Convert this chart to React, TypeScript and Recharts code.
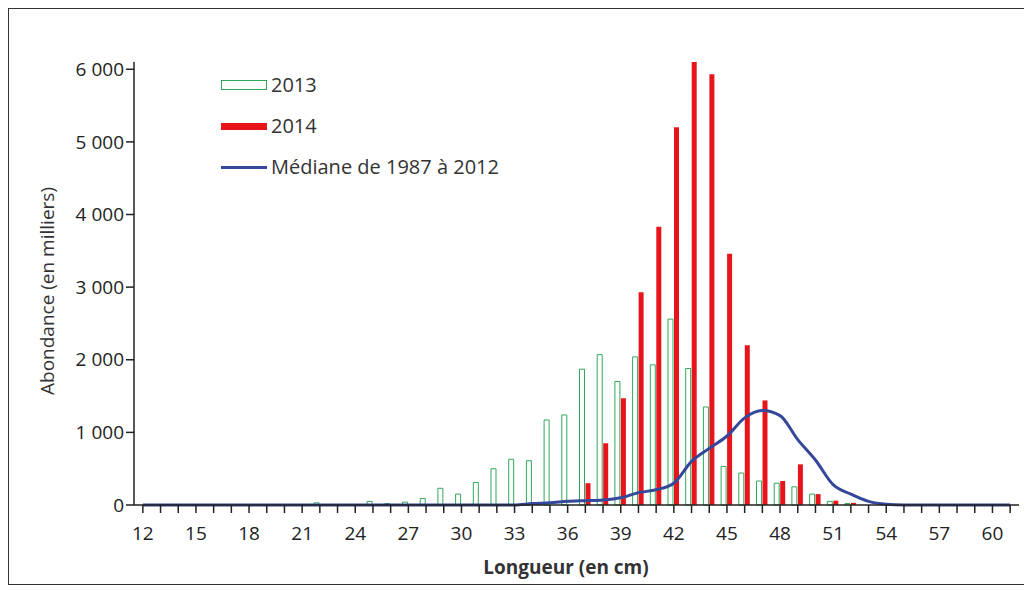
import React from 'react';
import { ComposedChart, Bar, Line, XAxis, YAxis } from 'recharts';

const lengths = Array.from({ length: 50 }, (_, i) => 12 + i);

// values in thousands, indexed by length (cm)
const abundance2013: Record<number, number> = {
  22: 30, 25: 50, 26: 20, 27: 40, 28: 90, 29: 230, 30: 150, 31: 310, 32: 500,
  33: 630, 34: 610, 35: 1170, 36: 1240, 37: 1870, 38: 2070, 39: 1700, 40: 2040,
  41: 1930, 42: 2560, 43: 1880, 44: 1350, 45: 530, 46: 440, 47: 330, 48: 300,
  49: 250, 50: 150, 51: 50, 52: 20,
};
const abundance2014: Record<number, number> = {
  37: 300, 38: 850, 39: 1470, 40: 2930, 41: 3830, 42: 5200, 43: 6100, 44: 5930,
  45: 3460, 46: 2200, 47: 1440, 48: 330, 49: 560, 50: 150, 51: 60, 52: 30,
};
const median8712: Record<number, number> = {
  34: 20, 35: 30, 36: 50, 37: 60, 38: 70, 39: 100, 40: 170, 41: 210, 42: 300,
  43: 600, 44: 780, 45: 950, 46: 1200, 47: 1300, 48: 1230, 49: 900, 50: 620,
  51: 280, 52: 150, 53: 50, 54: 10,
};
const yTicks = [0, 1000, 2000, 3000, 4000, 5000, 6000];

const data = lengths.map((l) => ({
  len: l,
  y2013: abundance2013[l] ?? 0,
  y2014: abundance2014[l] ?? 0,
  median: median8712[l] ?? 0,
}));

const font = '"Open Sans", sans-serif';
const fmt = (v: number) => (v >= 1000 ? `${Math.floor(v / 1000)} ${String(v % 1000).padStart(3, '0')}` : String(v));

export default function App() {
  return (
    <div style={{ position: 'relative', width: 1016, height: 575, border: '1px solid #333', fontFamily: font, background: '#fff' }}>
      <ComposedChart width={1014} height={573} data={data} margin={{ top: 53, right: 4, bottom: 47, left: 55 }} barSize={5} barGap={1}>
        <XAxis
          dataKey="len"
          interval={0}
          height={30}
          tickFormatter={(v: number) => ((v - 12) % 3 === 0 ? String(v) : '')}
          tick={{ fill: '#222', fontSize: 19, fontFamily: font }}
          axisLine={{ stroke: '#222', strokeWidth: 1.5 }}
          tickLine={{ stroke: '#222', strokeWidth: 1.5 }}
          tickSize={8}
          tickMargin={14}
        />
        <YAxis
          domain={[0, 6000]}
          ticks={yTicks}
          width={70}
          tickFormatter={fmt}
          tick={{ fill: '#222', fontSize: 19, fontFamily: font }}
          axisLine={{ stroke: '#222', strokeWidth: 1.5 }}
          tickLine={{ stroke: '#222', strokeWidth: 1.5 }}
          tickSize={8}
        />
        <Bar dataKey="y2013" fill="#fff" stroke="#2fa85a" strokeWidth={1} isAnimationActive={false} />
        <Bar dataKey="y2014" fill="#e8141c" isAnimationActive={false} />
        <Line dataKey="median" type="monotone" stroke="#34479a" strokeWidth={3} dot={false} isAnimationActive={false} />
      </ComposedChart>
      <div style={{ position: 'absolute', left: 14, top: 282, transform: 'translate(-50%, -50%) rotate(-90deg)', transformOrigin: 'center', fontSize: 19, color: '#333', whiteSpace: 'nowrap', marginLeft: 24 }}>
        Abondance (en milliers)
      </div>
      <div style={{ position: 'absolute', left: 557, top: 545, transform: 'translateX(-50%)', fontSize: 19, fontWeight: 'bold', color: '#333', whiteSpace: 'nowrap' }}>
        Longueur (en cm)
      </div>
      <div style={{ position: 'absolute', left: 212, top: 64, fontSize: 20, color: '#333', lineHeight: '24px' }}>
        <div style={{ display: 'flex', alignItems: 'center', height: 24, marginBottom: 17 }}>
          <span style={{ width: 46, height: 10, border: '1px solid #2fa85a', boxSizing: 'border-box', marginRight: 4 }} />2013
        </div>
        <div style={{ display: 'flex', alignItems: 'center', height: 24, marginBottom: 17 }}>
          <span style={{ width: 46, height: 7, background: '#e8141c', marginRight: 4 }} />2014
        </div>
        <div style={{ display: 'flex', alignItems: 'center', height: 24 }}>
          <span style={{ width: 46, height: 3, background: '#34479a', marginRight: 4 }} />Médiane de 1987 à 2012
        </div>
      </div>
    </div>
  );
}
